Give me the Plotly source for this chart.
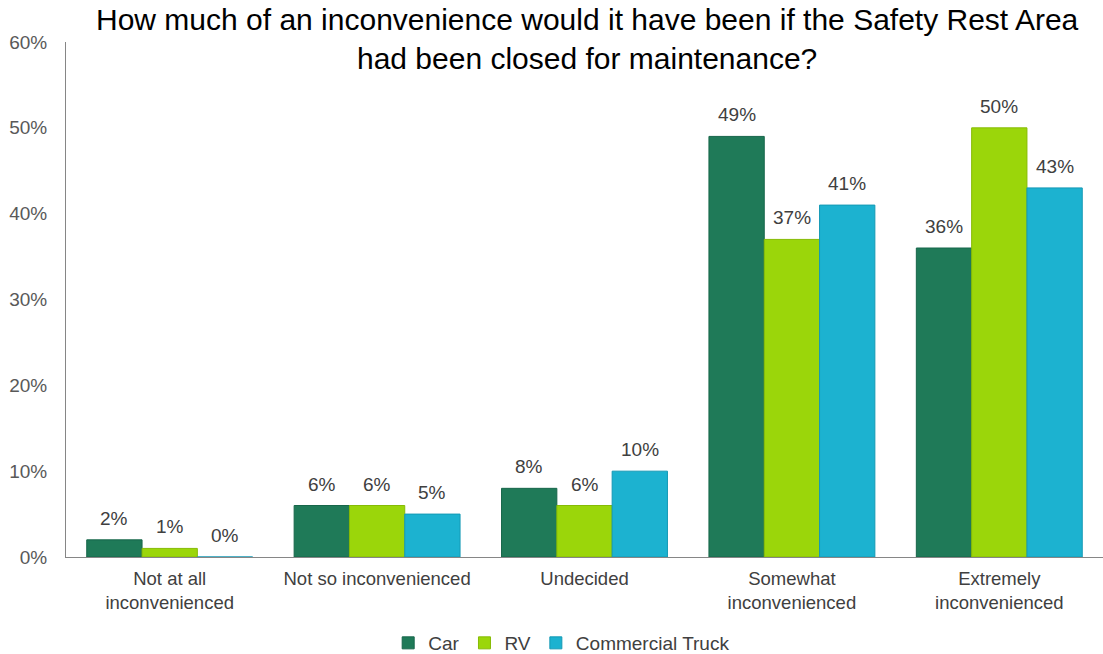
import plotly.graph_objects as go

categories = ["Not at all<br>inconvenienced", "Not so inconvenienced", "Undecided",
              "Somewhat<br>inconvenienced", "Extremely<br>inconvenienced"]
car = [2, 6, 8, 49, 36]
rv = [1, 6, 6, 37, 50]
truck = [0, 5, 10, 41, 43]
series_names = ["Car", "RV", "Commercial Truck"]
colors = ["#1f7a58", "#9bd60a", "#1cb2d0"]
line_colors = ["#17664a", "#86bb05", "#1499b5"]

FONT = "Liberation Sans, Arial, sans-serif"
BARGAP = 0.2

fig = go.Figure()
annotations = []
n = len(series_names)
bw = (1 - BARGAP) / n
for k, (name, vals, c, lc) in enumerate(zip(series_names, [car, rv, truck], colors, line_colors)):
    fig.add_trace(go.Bar(
        name=name, x=categories, y=vals,
        marker=dict(color=c, line=dict(color=lc, width=1)),
        cliponaxis=False,
    ))
    for i, v in enumerate(vals):
        annotations.append(dict(
            x=i + (k - (n - 1) / 2) * bw, y=v, xref="x", yref="y",
            text=f"{v}%", showarrow=False, yanchor="bottom", xanchor="center", yshift=9,
            font=dict(size=19, color="#404040", family=FONT),
        ))

annotations.append(dict(
    text="How much of an inconvenience would it have been if the Safety Rest Area<br>had been closed for maintenance?",
    xref="paper", yref="paper", x=0.503, y=1.0 + 3 / 515, xanchor="center", yanchor="middle",
    showarrow=False, font=dict(size=30, color="#000000", family=FONT),
))

fig.update_layout(
    width=1103, height=654,
    margin=dict(l=66, r=0, t=42, b=97, autoexpand=False),
    paper_bgcolor="white", plot_bgcolor="white",
    barmode="group", bargap=BARGAP, bargroupgap=0,
    font=dict(family=FONT, size=19, color="#404040"),
    showlegend=True,
    legend=dict(orientation="h", x=0.478, xanchor="center", y=-0.167, yanchor="middle",
                font=dict(size=19, color="#404040"), itemwidth=30, traceorder="normal"),
    annotations=annotations,
)
fig.update_yaxes(range=[0, 60], dtick=10, ticksuffix="%", showgrid=False, zeroline=False,
                 showline=True, linecolor="#868686", linewidth=1, ticks="", automargin=False,
                 tickfont=dict(size=19, color="#595959"), ticklabelstandoff=14)
fig.update_xaxes(showline=True, linecolor="#868686", linewidth=1, ticks="", automargin=False,
                 tickfont=dict(size=18.5, color="#404040"), showgrid=False,
                 ticklabelstandoff=5,
                 range=[-0.5, len(categories) - 0.5])

fig.write_html("out.html")
